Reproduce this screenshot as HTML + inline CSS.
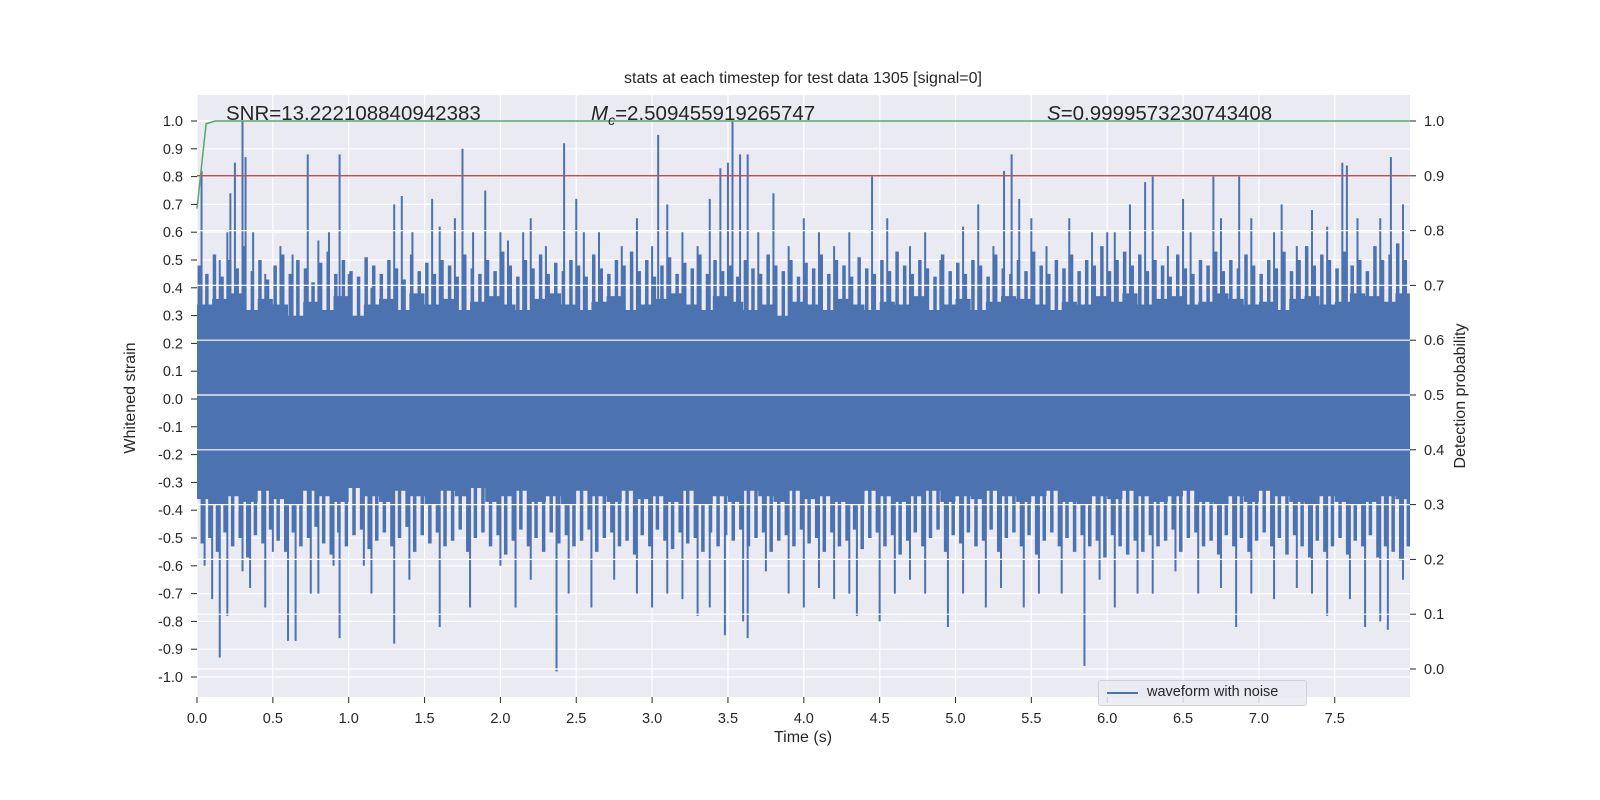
<!DOCTYPE html>
<html><head><meta charset="utf-8"><style>
html,body{margin:0;padding:0;background:#fff;}
svg{display:block;font-family:"Liberation Sans","DejaVu Sans",sans-serif;}
</style></head><body>
<svg id="chart" width="1600" height="800"></svg>
<script>
// ---- data ----
const bodyUpper = [0.34,0.36,0.38,0.32,0.36,0.34,0.30,0.35,0.32,0.37,0.30,0.34,0.36,0.32,0.38,0.34,0.36,0.32,0.35,0.37,0.34,0.32,0.36,0.38,0.34,0.32,0.35,0.37,0.32,0.34,0.36,0.38,0.34,0.32,0.37,0.35,0.32,0.34,0.30,0.35,0.34,0.32,0.36,0.34,0.32,0.35,0.34,0.37,0.32,0.34,0.36,0.32,0.35,0.37,0.36,0.34,0.32,0.35,0.34,0.37,0.35,0.38,0.34,0.36,0.37,0.34,0.35,0.38,0.36,0.34,0.35,0.32,0.36,0.37,0.34,0.35,0.38,0.37,0.35,0.38];
const bodyLower = [-0.36,-0.38,-0.35,-0.37,-0.33,-0.36,-0.38,-0.33,-0.35,-0.37,-0.32,-0.35,-0.37,-0.33,-0.35,-0.38,-0.33,-0.35,-0.32,-0.37,-0.35,-0.33,-0.37,-0.35,-0.38,-0.33,-0.35,-0.37,-0.33,-0.36,-0.35,-0.37,-0.33,-0.38,-0.35,-0.37,-0.33,-0.35,-0.37,-0.33,-0.36,-0.35,-0.37,-0.38,-0.33,-0.35,-0.37,-0.35,-0.33,-0.37,-0.35,-0.36,-0.33,-0.35,-0.37,-0.35,-0.33,-0.37,-0.38,-0.35,-0.36,-0.33,-0.35,-0.37,-0.35,-0.33,-0.37,-0.38,-0.35,-0.37,-0.33,-0.35,-0.37,-0.38,-0.35,-0.37,-0.38,-0.37,-0.35,-0.36];
const midUpper = [0.48,0.45,0.52,0.44,0.5,0.47,0.55,0.46,0.5,0.43,0.48,0.52,0.45,0.5,0.47,0.42,0.49,0.53,0.45,0.5,0.46,0.44,0.51,0.48,0.45,0.5,0.47,0.43,0.52,0.46,0.49,0.45,0.5,0.48,0.44,0.52,0.47,0.45,0.5,0.46,0.53,0.48,0.44,0.5,0.47,0.52,0.45,0.49,0.46,0.5,0.48,0.44,0.52,0.47,0.45,0.5,0.48,0.53,0.46,0.5,0.44,0.48,0.51,0.45,0.49,0.47,0.52,0.45,0.5,0.46,0.48,0.44,0.5,0.47,0.45,0.52,0.48,0.46,0.5,0.44,0.49,0.47,0.52,0.45,0.5,0.48,0.44,0.51,0.47,0.45,0.5,0.46,0.53,0.48,0.45,0.5,0.47,0.44,0.52,0.46,0.49,0.45,0.5,0.48,0.44,0.52,0.47,0.45,0.5,0.46,0.53,0.48,0.45,0.5,0.47,0.52,0.46,0.5,0.48,0.55,0.46,0.5,0.53,0.48,0.52,0.46,0.5,0.48,0.44,0.52,0.47,0.45,0.5,0.48,0.53,0.46,0.5,0.47,0.52,0.48,0.45,0.5,0.47,0.53,0.46,0.5,0.55,0.48,0.52,0.5,0.47,0.53,0.48,0.5,0.46,0.55,0.5,0.52,0.56,0.5];
const midLower = [-0.52,-0.5,-0.55,-0.48,-0.53,-0.5,-0.57,-0.49,-0.52,-0.47,-0.51,-0.55,-0.48,-0.53,-0.5,-0.46,-0.52,-0.56,-0.48,-0.53,-0.49,-0.47,-0.54,-0.51,-0.48,-0.53,-0.5,-0.46,-0.55,-0.49,-0.52,-0.48,-0.53,-0.51,-0.47,-0.55,-0.5,-0.48,-0.53,-0.49,-0.56,-0.51,-0.47,-0.53,-0.5,-0.55,-0.48,-0.52,-0.49,-0.53,-0.51,-0.47,-0.55,-0.5,-0.48,-0.53,-0.51,-0.56,-0.49,-0.53,-0.47,-0.51,-0.54,-0.48,-0.52,-0.5,-0.55,-0.48,-0.53,-0.49,-0.51,-0.47,-0.53,-0.5,-0.48,-0.55,-0.51,-0.49,-0.53,-0.47,-0.52,-0.5,-0.55,-0.48,-0.53,-0.51,-0.47,-0.54,-0.5,-0.48,-0.53,-0.49,-0.56,-0.51,-0.48,-0.53,-0.5,-0.47,-0.55,-0.49,-0.52,-0.48,-0.53,-0.51,-0.47,-0.55,-0.5,-0.48,-0.53,-0.49,-0.56,-0.51,-0.48,-0.53,-0.5,-0.55,-0.49,-0.53,-0.51,-0.57,-0.49,-0.53,-0.56,-0.51,-0.55,-0.49,-0.53,-0.51,-0.47,-0.55,-0.5,-0.48,-0.53,-0.51,-0.56,-0.49,-0.53,-0.5,-0.55,-0.51,-0.48,-0.53,-0.5,-0.56,-0.49,-0.53,-0.57,-0.51,-0.55,-0.53,-0.5,-0.56,-0.51,-0.53,-0.49,-0.57,-0.53,-0.55,-0.58,-0.53];
const spikeT = [0.03,0.15,0.2,0.22,0.25,0.3,0.32,0.37,0.45,0.55,0.63,0.73,0.8,0.87,0.94,1.0,1.15,1.3,1.35,1.42,1.55,1.6,1.7,1.75,1.82,1.9,2.0,2.05,2.15,2.2,2.3,2.42,2.5,2.55,2.65,2.8,2.9,3.0,3.04,3.1,3.2,3.3,3.38,3.45,3.5,3.53,3.58,3.63,3.7,3.8,3.9,4.0,4.1,4.2,4.3,4.45,4.55,4.7,4.8,4.9,5.05,5.15,5.25,5.32,5.37,5.42,5.5,5.6,5.75,5.9,6.0,6.05,6.15,6.25,6.3,6.4,6.5,6.55,6.7,6.75,6.87,6.95,7.1,7.15,7.25,7.35,7.45,7.55,7.58,7.65,7.8,7.87,7.95,
 0.05,0.1,0.15,0.2,0.3,0.35,0.45,0.5,0.6,0.65,0.75,0.8,0.9,0.94,1.1,1.15,1.3,1.4,1.6,1.8,2.0,2.1,2.2,2.37,2.45,2.6,2.75,2.9,3.0,3.1,3.2,3.3,3.38,3.48,3.6,3.63,3.75,3.9,4.0,4.1,4.2,4.3,4.35,4.5,4.6,4.7,4.8,4.95,5.05,5.2,5.3,5.45,5.55,5.7,5.85,5.95,6.05,6.2,6.3,6.45,6.6,6.75,6.85,6.95,7.1,7.25,7.35,7.45,7.6,7.7,7.8,7.85,7.95];
const spikeV = [0.82,0.5,0.6,0.74,0.85,1.0,0.87,0.6,0.45,0.55,0.52,0.88,0.57,0.6,0.88,0.45,0.4,0.7,0.73,0.6,0.72,0.62,0.65,0.9,0.6,0.75,0.6,0.57,0.6,0.65,0.55,0.92,0.72,0.6,0.6,0.55,0.65,0.55,0.95,0.7,0.6,0.55,0.72,0.83,0.85,1.0,0.88,0.88,0.6,0.74,0.55,0.65,0.6,0.55,0.6,0.8,0.65,0.55,0.6,0.5,0.62,0.7,0.55,0.82,0.88,0.72,0.65,0.55,0.65,0.6,0.6,0.6,0.7,0.78,0.8,0.55,0.72,0.6,0.8,0.65,0.8,0.65,0.6,0.7,0.55,0.68,0.62,0.85,0.84,0.65,0.65,0.87,0.7,
 -0.6,-0.72,-0.93,-0.78,-0.62,-0.68,-0.75,-0.55,-0.87,-0.87,-0.7,-0.7,-0.6,-0.86,-0.6,-0.7,-0.88,-0.65,-0.82,-0.75,-0.6,-0.75,-0.65,-0.98,-0.7,-0.75,-0.65,-0.7,-0.75,-0.7,-0.72,-0.78,-0.75,-0.85,-0.8,-0.86,-0.62,-0.7,-0.75,-0.68,-0.72,-0.7,-0.78,-0.8,-0.7,-0.65,-0.7,-0.82,-0.7,-0.75,-0.68,-0.75,-0.7,-0.7,-0.96,-0.65,-0.75,-0.7,-0.7,-0.62,-0.7,-0.68,-0.82,-0.7,-0.72,-0.68,-0.7,-0.78,-0.72,-0.82,-0.8,-0.83,-0.65];
const probT = [0,0.06,0.12,7.995];
const probV = [0.84,0.995,1.0,1.0];
const threshold = 0.9;
const xTicks = [0,0.5,1,1.5,2,2.5,3,3.5,4,4.5,5,5.5,6,6.5,7,7.5];
const yTicksL = [1,0.9,0.8,0.7,0.6,0.5,0.4,0.3,0.2,0.1,0,-0.1,-0.2,-0.3,-0.4,-0.5,-0.6,-0.7,-0.8,-0.9,-1];
const yTicksR = [1,0.9,0.8,0.7,0.6,0.5,0.4,0.3,0.2,0.1,0];

// ---- scales ----
const PL=197,PR=1410,PT=95,PB=697;
const X=t=>197+t*151.7;
const YL=v=>399-v*278;
const YR=v=>669-v*548;
const NS='http://www.w3.org/2000/svg';
const svg=document.getElementById('chart');
function mk(tag,attrs,parent){const e=document.createElementNS(NS,tag);for(const k in attrs)e.setAttribute(k,attrs[k]);(parent||svg).appendChild(e);return e;}

const bg=mk('rect',{x:PL,y:PT,width:PR-PL,height:PB-PT,fill:'#EAEAF2'});



const grid=mk('g',{stroke:'#fff','stroke-width':1.2});


yTicksL.forEach(v=>mk('line',{x1:PL,x2:PR,y1:YL(v),y2:YL(v)},grid));
xTicks.forEach(t=>mk('line',{x1:X(t),x2:X(t),y1:PT,y2:PB},grid));

const wf=mk('g',{});


const bw=8/bodyUpper.length;
let upperPath='',lowerPath='';
bodyUpper.forEach((v,i)=>{upperPath+=`L${X(i*bw)},${YL(v)} L${X(Math.min((i+1)*bw,7.995))},${YL(v)} `;});
for(let i=bodyLower.length-1;i>=0;i--){lowerPath+=`L${X(Math.min((i+1)*bw,7.995))},${YL(bodyLower[i])} L${X(i*bw)},${YL(bodyLower[i])} `;}
const body=mk('path',{d:'M'+X(0)+','+YL(0)+' '+upperPath+lowerPath+'Z',fill:'#4C72B0'},wf);


const mw=8/midUpper.length;
midUpper.forEach((v,i)=>{
  const t=i*mw+mw*0.3;
  const ln=mk('line',{x1:X(t),x2:X(t),y1:YL(0),y2:YL(v),stroke:'#4C72B0','stroke-width':3.5},wf);
  
  
});
midLower.forEach((v,i)=>{
  const t=i*mw+mw*0.7;
  const ln=mk('line',{x1:X(t),x2:X(t),y1:YL(0),y2:YL(v),stroke:'#4C72B0','stroke-width':3.5},wf);
  
  
});
spikeT.forEach((t,i)=>{
  const ln=mk('line',{x1:X(t),x2:X(t),y1:YL(0),y2:YL(spikeV[i]),stroke:'#4C72B0','stroke-width':2},wf);
  
  
});

const grid2=mk('g',{stroke:'#fff','stroke-width':1.2});


yTicksR.forEach(v=>mk('line',{x1:PL,x2:PR,y1:YR(v),y2:YR(v)},grid2));

const th=mk('line',{x1:PL,x2:PR,y1:YR(threshold),y2:YR(threshold),stroke:'#C44E52','stroke-width':1.5});


const pp=mk('polyline',{points:probT.map((t,i)=>X(t)+','+YR(probV[i])).join(' '),fill:'none',stroke:'#55A868','stroke-width':1.5});



const tk=mk('g',{fill:'#262626','font-size':14.5});


yTicksL.forEach(v=>{mk('line',{x1:PL-6,x2:PL,y1:YL(v),y2:YL(v),stroke:'#262626','stroke-width':1},tk);const tx=mk('text',{x:183,y:YL(v)+5,'text-anchor':'end'},tk);tx.textContent=v.toFixed(1);});
yTicksR.forEach(v=>{mk('line',{x1:PR,x2:PR+6,y1:YR(v),y2:YR(v),stroke:'#262626','stroke-width':1},tk);const tx=mk('text',{x:1424,y:YR(v)+5},tk);tx.textContent=v.toFixed(1);});
xTicks.forEach(v=>{mk('line',{x1:X(v),x2:X(v),y1:PB,y2:PB+6,stroke:'#262626','stroke-width':1},tk);const tx=mk('text',{x:X(v),y:723,'text-anchor':'middle'},tk);tx.textContent=v.toFixed(1);});
</script>
<div style="position:absolute;left:0;top:0;width:1600px;height:800px;pointer-events:none;font-family:'Liberation Sans','DejaVu Sans',sans-serif;color:#262626;">
  <div style="position:absolute;left:0;width:1606px;top:70px;text-align:center;font-size:16px;">stats at each timestep for test data 1305 [signal=0]</div>
  <div style="position:absolute;left:226px;top:102px;font-size:20.5px;">SNR=13.222108840942383</div>
  <div style="position:absolute;left:591px;top:102px;font-size:20.5px;"><i>M</i><sub style="font-size:14px;font-style:italic;">c</sub>=2.509455919265747</div>
  <div style="position:absolute;left:1047px;top:102px;font-size:20.5px;"><i>S</i>=0.9999573230743408</div>
  <div style="position:absolute;left:0;width:1606px;top:729px;text-align:center;font-size:16px;">Time (s)</div>
  <div style="position:absolute;left:131px;top:398px;font-size:16px;transform:translate(-50%,-50%) rotate(-90deg);white-space:nowrap;">Whitened strain</div>
  <div style="position:absolute;left:1461px;top:396px;font-size:16px;transform:translate(-50%,-50%) rotate(-90deg);white-space:nowrap;">Detection probability</div>
  <div style="position:absolute;left:1098px;top:680px;width:207px;height:24px;border:1px solid #d0d0d8;border-radius:3px;background:rgba(234,234,242,0.85);">
    <div style="position:absolute;left:8px;top:11px;width:31px;height:2px;background:#4C72B0;"></div>
    <div style="position:absolute;left:48px;top:3px;font-size:14.5px;">waveform with noise</div>
  </div>
</div>
</body></html>
